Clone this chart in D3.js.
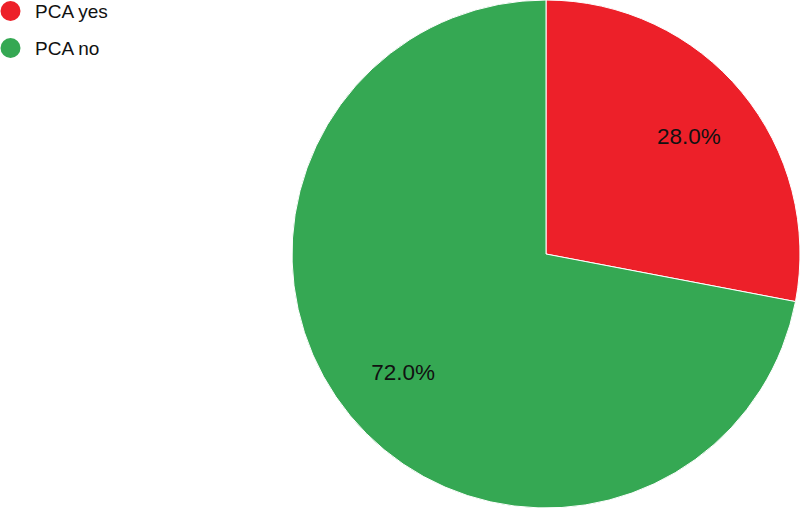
<!DOCTYPE html>
<html>
<head>
<meta charset="utf-8">
<script src="https://cdn.jsdelivr.net/npm/d3@7"></script>
<style>
  body { margin: 0; background: #fff; }
  svg { display: block; font-family: "Liberation Sans", Arial, sans-serif; }
</style>
</head>
<body>
<div id="chart"></div>
<script>
// chart data
const categories = ['PCA yes', 'PCA no'];
const values = [28.0, 72.0];
const colors = ['#ED2029', '#35A853'];

const width = 800, height = 508;
const cx = 546, cy = 254, radius = 254;

const svg = d3.select('#chart')
  .append('svg')
  .attr('width', width)
  .attr('height', height);

const data = categories.map((c, i) => ({ name: c, value: values[i], color: colors[i] }));

const pie = d3.pie().value(d => d.value).sort(null);
const arc = d3.arc().innerRadius(0).outerRadius(radius);
const labelArc = d3.arc().innerRadius(radius * 0.73).outerRadius(radius * 0.73);

const g = svg.append('g').attr('transform', `translate(${cx},${cy})`);

const slices = g.selectAll('.slice')
  .data(pie(data))
  .enter()
  .append('g')
  .attr('class', 'slice');

slices.append('path')
  .attr('d', arc)
  .attr('fill', d => d.data.color)
  .attr('stroke', '#fff')
  .attr('stroke-width', 1);

slices.append('text')
  .attr('transform', d => `translate(${labelArc.centroid(d)})`)
  .attr('text-anchor', 'middle')
  .attr('dy', '0.35em')
  .attr('font-size', 22.5)
  .attr('fill', '#111')
  .text(d => d.data.value.toFixed(1) + '%');

// legend
const legend = svg.selectAll('.legend')
  .data(data)
  .enter()
  .append('g')
  .attr('class', 'legend')
  .attr('transform', (d, i) => `translate(10.5,${11 + i * 37})`);

legend.append('circle')
  .attr('r', 10)
  .attr('fill', d => d.color);

legend.append('text')
  .attr('x', 24.5)
  .attr('dy', '0.35em')
  .attr('font-size', 19)
  .attr('fill', '#111')
  .text(d => d.name);
</script>
</body>
</html>
